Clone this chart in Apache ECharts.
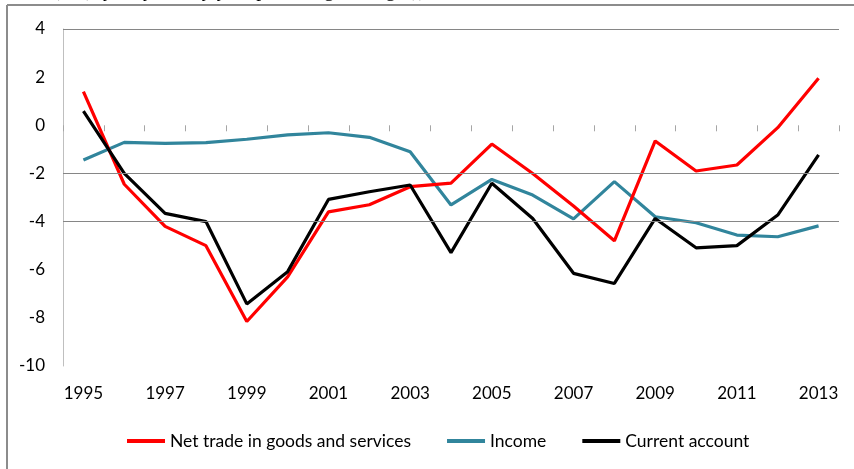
<!DOCTYPE html>
<html>
<head>
<meta charset="utf-8">
<script src="https://cdn.jsdelivr.net/npm/echarts@6/dist/echarts.min.js"></script>
<style>
html,body{margin:0;padding:0;background:#fff;}
#main{width:854px;height:469px;}
</style>
</head>
<body>
<div id="main"></div>
<script>
const years = ['1995','1996','1997','1998','1999','2000','2001','2002','2003','2004','2005','2006','2007','2008','2009','2010','2011','2012','2013'];
const netTrade = [1.4, -2.45, -4.2, -5.0, -8.15, -6.3, -3.6, -3.3, -2.55, -2.4, -0.78, -2.0, -3.35, -4.8, -0.65, -1.9, -1.65, -0.1, 1.95];
const income = [-1.44, -0.71, -0.75, -0.72, -0.58, -0.4, -0.31, -0.5, -1.1, -3.31, -2.25, -2.9, -3.89, -2.34, -3.8, -4.05, -4.56, -4.63, -4.18];
const currentAccount = [0.59, -2.0, -3.66, -4.0, -7.42, -6.08, -3.08, -2.76, -2.48, -5.29, -2.41, -3.87, -6.15, -6.57, -3.87, -5.09, -5.0, -3.73, -1.23];
const gridValues = [4, -2, -4];
const yTicks = {min: -10, max: 4, interval: 2};
const seriesNames = ['Net trade in goods and services', 'Income', 'Current account'];

const chart = echarts.init(document.getElementById('main'));
const font = 'Lato, "Open Sans", sans-serif';
chart.setOption({
  animation: false,
  backgroundColor: '#fff',
  graphic: [
    {type: 'line', shape: {x1: 7, y1: 5, x2: 854, y2: 5}, style: {stroke: '#8c8c8c', lineWidth: 2}},
    {type: 'line', shape: {x1: 7, y1: 5, x2: 7, y2: 469}, style: {stroke: '#8c8c8c', lineWidth: 2}},
    {type: 'text', left: 53, top: -19, style: {text: '(EU), yearly and by year percentage changes)),', font: '20px "Liberation Serif", serif', fill: '#000'}}
  ],
  grid: {left: 63, right: 15, top: 29, bottom: 103, containLabel: false},
  legend: {
    data: seriesNames,
    left: 127, top: 432, padding: 0,
    icon: 'rect', itemWidth: 38, itemHeight: 4, itemGap: 36,
    textStyle: {fontFamily: font, fontSize: 17.5, color: '#000'}
  },
  xAxis: [
    {
      type: 'category', data: years, boundaryGap: true,
      axisLine: {show: false, onZero: false},
      axisTick: {show: false},
      axisLabel: {interval: 1, margin: 19, fontFamily: font, fontSize: 17, color: '#000'},
      splitLine: {show: false}
    },
    {
      type: 'category', data: years, boundaryGap: true, position: 'bottom',
      axisLine: {show: true, onZero: true, lineStyle: {color: 'rgba(0,0,0,0)'}},
      axisTick: {show: true, interval: 0, length: 6, lineStyle: {color: '#a6a6a6', width: 1}},
      axisLabel: {show: false},
      splitLine: {show: false}
    }
  ],
  yAxis: {
    type: 'value', min: yTicks.min, max: yTicks.max, interval: yTicks.interval,
    axisLine: {show: true, lineStyle: {color: '#bfbfbf', width: 1}},
    axisTick: {show: false},
    axisLabel: {margin: 18, fontFamily: font, fontSize: 17, color: '#000'},
    splitLine: {show: false}
  },
  series: [
    {
      name: seriesNames[0], type: 'line', data: netTrade, symbol: 'none',
      lineStyle: {color: '#ff0000', width: 3.2}, itemStyle: {color: '#ff0000'}, z: 3,
      markLine: {
        silent: true, symbol: 'none', animation: false,
        label: {show: false},
        lineStyle: {color: '#868686', width: 1, type: 'solid'},
        data: gridValues.map(v => ({yAxis: v}))
      }
    },
    {
      name: seriesNames[1], type: 'line', data: income, symbol: 'none',
      lineStyle: {color: '#31859c', width: 3.2}, itemStyle: {color: '#31859c'}, z: 2
    },
    {
      name: seriesNames[2], type: 'line', data: currentAccount, symbol: 'none',
      lineStyle: {color: '#000000', width: 3.2}, itemStyle: {color: '#000000'}, z: 4
    }
  ]
});
</script>
</body>
</html>
